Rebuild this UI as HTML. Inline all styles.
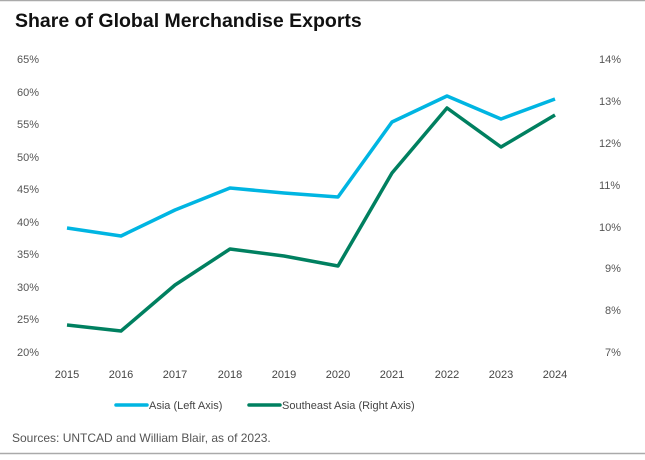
<!DOCTYPE html><html><head><style>
body{margin:0;width:645px;height:455px;background:#fff;overflow:hidden}
text{font-family:"Liberation Sans",sans-serif}
</style></head><body>
<svg width="645" height="455" xmlns="http://www.w3.org/2000/svg">
<line x1="0" y1="0.5" x2="645" y2="0.5" stroke="#aaa" stroke-width="1.5"/>
<line x1="0" y1="453.5" x2="645" y2="453.5" stroke="#aaa" stroke-width="1.5"/>
<text x="15" y="27" font-size="19.5" font-weight="bold" fill="#111">Share of Global Merchandise Exports</text>
<g font-size="11" fill="#555">
<text x="17" y="63">65%</text><text x="17" y="96">60%</text><text x="17" y="128">55%</text><text x="17" y="161">50%</text><text x="17" y="193">45%</text><text x="17" y="226">40%</text><text x="17" y="258">35%</text><text x="17" y="291">30%</text><text x="17" y="323">25%</text><text x="17" y="356">20%</text>
<text x="599" y="63">14%</text><text x="599" y="105">13%</text><text x="599" y="147">12%</text><text x="599" y="189">11%</text><text x="599" y="231">10%</text><text x="605" y="272">9%</text><text x="605" y="314">8%</text><text x="605" y="356">7%</text>
</g>
<g font-size="11" fill="#444" text-anchor="middle">
<text x="67" y="378">2015</text><text x="121" y="378">2016</text><text x="175" y="378">2017</text><text x="230" y="378">2018</text><text x="284" y="378">2019</text><text x="338" y="378">2020</text><text x="392" y="378">2021</text><text x="447" y="378">2022</text><text x="501" y="378">2023</text><text x="555" y="378">2024</text>
</g>
<polyline fill="none" stroke="#00b5e2" stroke-width="3.5" stroke-linejoin="round" points="67,228 121,236 175,210 230,188 284,193 338,197 392,122 447,96 501,119 555,99"/>
<polyline fill="none" stroke="#008060" stroke-width="3.5" stroke-linejoin="round" points="67,325 121,331 175,285 230,249 284,256 338,266 392,173 447,108 501,147 555,115"/>
<line x1="116" y1="405" x2="147" y2="405" stroke="#00b5e2" stroke-width="3.5" stroke-linecap="round"/>
<text x="149" y="409" font-size="11" fill="#444">Asia (Left Axis)</text>
<line x1="249" y1="405" x2="280" y2="405" stroke="#008060" stroke-width="3.5" stroke-linecap="round"/>
<text x="282" y="409" font-size="11" fill="#444">Southeast Asia (Right Axis)</text>
<text x="12" y="442" font-size="12" fill="#555">Sources: UNTCAD and William Blair, as of 2023.</text>
</svg>
</body></html>
